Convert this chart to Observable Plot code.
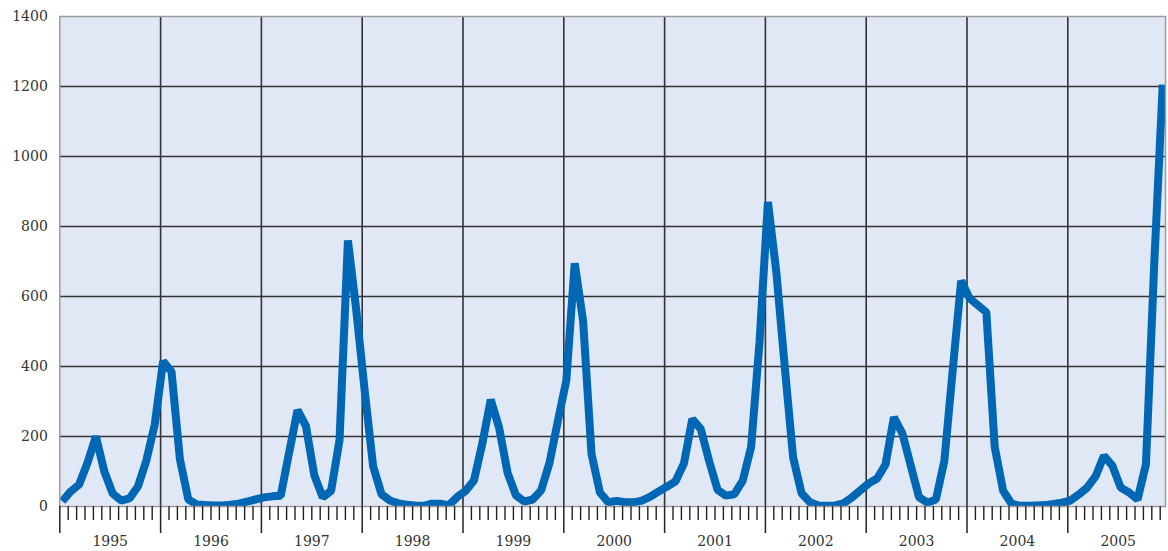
<!DOCTYPE html>
<html>
<head>
<meta charset="utf-8">
<script src="https://cdn.jsdelivr.net/npm/d3@7"></script>
<script src="https://cdn.jsdelivr.net/npm/@observablehq/plot@0.6"></script>
<style>
  html, body { margin: 0; padding: 0; background: #ffffff; }
  #chart { width: 1168px; height: 551px; }
</style>
</head>
<body>
<div id="chart"></div>
<script>
// Year labels (one per year, monthly data Jan..Dec)
const years = ["1995","1996","1997","1998","1999","2000","2001","2002","2003","2004","2005"];

// Monthly values, one array per year
const v1995 = [15, 43, 63, 125, 200, 100, 37, 17, 23, 57, 131, 234];
const v1996 = [415, 385, 135, 20, 6, 4, 3, 3, 5, 8, 14, 20];
const v1997 = [26, 29, 31, 154, 275, 230, 89, 26, 45, 190, 760, 560];
const v1998 = [330, 115, 35, 17, 9, 5, 3, 2, 8, 8, 3, 27];
const v1999 = [44, 74, 180, 305, 225, 97, 32, 14, 20, 46, 125, 245];
const v2000 = [360, 695, 530, 150, 40, 12, 16, 12, 12, 17, 28, 43];
const v2001 = [57, 72, 123, 250, 222, 130, 48, 31, 35, 74, 170, 470];
const v2002 = [870, 670, 400, 140, 38, 12, 3, 2, 3, 9, 26, 46];
const v2003 = [66, 80, 120, 255, 209, 117, 26, 11, 20, 130, 390, 645];
const v2004 = [595, 575, 555, 170, 45, 8, 2, 2, 3, 4, 7, 11];
const v2005 = [17, 34, 54, 86, 145, 117, 54, 40, 20, 120, 700, 1205];

const yTicks = [0, 200, 400, 600, 800, 1000, 1200, 1400];

const series = [v1995, v1996, v1997, v1998, v1999, v2000, v2001, v2002, v2003, v2004, v2005];
// month index t (0 = start of Jan 1995); each reading sits a little into its month
const data = [];
series.forEach((arr, yi) => arr.forEach((v, m) => data.push({t: yi * 12 + m + 0.3, value: v})));

const nMonths = years.length * 12;
const monthTicks = d3.range(0, nMonths).filter(d => d % 12 !== 0);
const yearTicks = d3.range(0, nMonths, 12);
const yearMid = years.map((y, i) => i * 12 + 6);

const chart = Plot.plot({
  width: 1168,
  height: 551,
  marginLeft: 59.3,
  marginRight: 3,
  marginTop: 16,
  marginBottom: 45,
  x: {domain: [0, 131.63], axis: null, label: null},
  y: {domain: [0, 1400], axis: null, label: null},
  style: {background: "#ffffff", fontFamily: "'DejaVu Serif', serif", color: "#333"},
  marks: [
    Plot.frame({fill: "#e0e7f5"}),
    Plot.gridY(yTicks.filter(d => d > 0 && d < 1400), {stroke: "#333", strokeOpacity: 1, strokeWidth: 1.6}),
    Plot.gridX(yearTicks.filter(d => d > 0), {stroke: "#333", strokeOpacity: 1, strokeWidth: 1.6}),
    Plot.line(data, {x: "t", y: "value", stroke: "#0067b5", strokeWidth: 8, strokeLinejoin: "miter", strokeLinecap: "butt", clip: true}),
    Plot.frame({stroke: "#9c9c9c", strokeWidth: 1.5}),
    Plot.axisX({ticks: monthTicks, tickSize: 14, tickFormat: () => "", label: null, stroke: "#222", strokeWidth: 1.4}),
    Plot.axisX({ticks: yearTicks, tickSize: 27, tickFormat: () => "", label: null, stroke: "#222", strokeWidth: 1.5}),
    Plot.axisX({ticks: yearMid, tickSize: 0, tickPadding: 30, tickFormat: d => years[(d - 6) / 12], label: null, fontSize: 14, fill: "#333"}),
    Plot.axisY({ticks: yTicks, tickSize: 0, tickPadding: 12, tickFormat: d => String(d), label: null, fontSize: 14, fill: "#333"})
  ]
});
document.getElementById("chart").appendChild(chart);
</script>
</body>
</html>
